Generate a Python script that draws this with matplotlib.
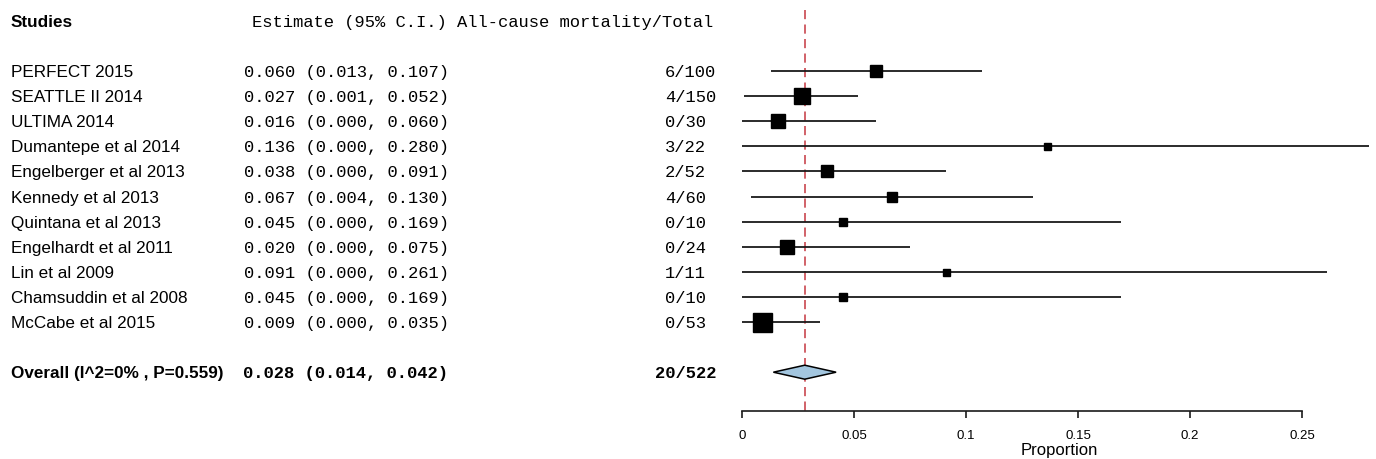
import matplotlib
matplotlib.use("Agg")
import matplotlib.pyplot as plt
from matplotlib.ticker import FuncFormatter
import numpy as np

# data
studies = ["PERFECT 2015", "SEATTLE II 2014", "ULTIMA 2014", "Dumantepe et al 2014",
           "Engelberger et al 2013", "Kennedy et al 2013", "Quintana et al 2013",
           "Engelhardt et al 2011", "Lin et al 2009", "Chamsuddin et al 2008",
           "McCabe et al 2015"]
est = [0.060, 0.027, 0.016, 0.136, 0.038, 0.067, 0.045, 0.020, 0.091, 0.045, 0.009]
lo = [0.013, 0.001, 0.000, 0.000, 0.000, 0.004, 0.000, 0.000, 0.000, 0.000, 0.000]
hi = [0.107, 0.052, 0.060, 0.280, 0.091, 0.130, 0.169, 0.075, 0.261, 0.169, 0.035]
events = [6, 4, 0, 3, 2, 4, 0, 0, 1, 0, 0]
totals = [100, 150, 30, 22, 52, 60, 10, 24, 11, 10, 53]
weights = [9.5, 14.5, 12.5, 3.0, 9.5, 8.0, 4.5, 12.0, 3.0, 4.5, 19.0]  # relative weight (%)

overall_label = "Overall (I^2=0% , P=0.559)"
overall_est, overall_lo, overall_hi = 0.028, 0.014, 0.042
overall_events, overall_total = 20, 522

xticks = [0, 0.05, 0.1, 0.15, 0.2, 0.25]

W, H, DPI = 1376, 459, 100
fig = plt.figure(figsize=(W / DPI, H / DPI), dpi=DPI)
ax = fig.add_axes([0, 0, 1, 1])

# pixel layout: x=0 at 742px, 2240 px per unit; rows 25.1 px apart, first row at 71px
x0_px, px_per_unit = 742, 2240
row0_px, row_px = 71, 25.1
ax.set_xlim(-x0_px / px_per_unit, (W - x0_px) / px_per_unit)
ax.set_ylim((H - row0_px) / row_px, -row0_px / row_px)

n = len(studies)
rows = np.arange(n)
overall_row = n + 1
header_row = -2
axis_row = (411 - row0_px) / row_px

sans = "Liberation Sans"
mono = "Liberation Mono"
fs = 12.3
va = "center_baseline"
tr = ax.get_yaxis_transform()  # x in axes fraction, y in rows

# header
ax.text(11 / W, header_row, "Studies", transform=tr, family=sans, fontsize=fs,
        fontweight="bold", va=va, ha="left")
ax.text(252 / W, header_row, "Estimate (95% C.I.) All-cause mortality/Total",
        transform=tr, family=mono, fontsize=fs, va=va, ha="left")

# study rows
w = np.array(weights)
box_px = 7 + (w - w.min()) / (w.max() - w.min()) * 12
for i in range(n):
    ax.text(11 / W, rows[i], studies[i], transform=tr, family=sans, fontsize=fs,
            va=va, ha="left")
    ax.text(244 / W, rows[i], f"{est[i]:.3f} ({lo[i]:.3f}, {hi[i]:.3f})",
            transform=tr, family=mono, fontsize=fs, va=va, ha="left")
    ax.text(665 / W, rows[i], f"{events[i]}/{totals[i]}", transform=tr,
            family=mono, fontsize=fs, va=va, ha="left")
    ax.plot([lo[i], hi[i]], [rows[i], rows[i]], color="#1a1a1a", lw=1.3,
            solid_capstyle="butt", zorder=2)
    ax.plot(est[i], rows[i], marker="s", color="black", linestyle="none",
            markersize=box_px[i] * 72 / DPI, zorder=3)

# overall row
ax.text(11 / W, overall_row, overall_label, transform=tr, family=sans,
        fontsize=fs, fontweight="bold", va=va, ha="left")
ax.text(243 / W, overall_row,
        f"{overall_est:.3f} ({overall_lo:.3f}, {overall_hi:.3f})",
        transform=tr, family=mono, fontsize=fs, fontweight="bold",
        va=va, ha="left")
ax.text(655 / W, overall_row, f"{overall_events}/{overall_total}", transform=tr,
        family=mono, fontsize=fs, fontweight="bold", va=va, ha="left")
dh = 7 / row_px
ax.fill([overall_lo, overall_est, overall_hi, overall_est],
        [overall_row, overall_row - dh, overall_row, overall_row + dh],
        facecolor="#a3c6df", edgecolor="black", lw=1.1, zorder=3)

# reference line at pooled estimate
ax.plot([overall_est, overall_est], [-61 / row_px, axis_row], color="#c9474f",
        lw=1.2, dashes=(5.5, 3.2), zorder=1)

# x axis
for s in ["top", "left", "right"]:
    ax.spines[s].set_visible(False)
ax.spines["bottom"].set_position(("data", axis_row))
ax.spines["bottom"].set_bounds(xticks[0], xticks[-1])
ax.spines["bottom"].set_linewidth(1.2)
ax.spines["bottom"].set_color("#1a1a1a")
ax.set_xticks(xticks)
ax.xaxis.set_major_formatter(FuncFormatter(lambda v, p: f"{v:g}"))
ax.tick_params(axis="x", direction="out", length=5, width=1.2, pad=9,
               labelsize=9.5, color="#1a1a1a")
for lab in ax.get_xticklabels():
    lab.set_family(sans)
ax.set_yticks([])
ax.text((0 + ax.get_xlim()[1]) / 2, (450 - row0_px) / row_px, "Proportion",
        family=sans, fontsize=12, ha="center", va="center")

fig.savefig("out.png", dpi=DPI)
